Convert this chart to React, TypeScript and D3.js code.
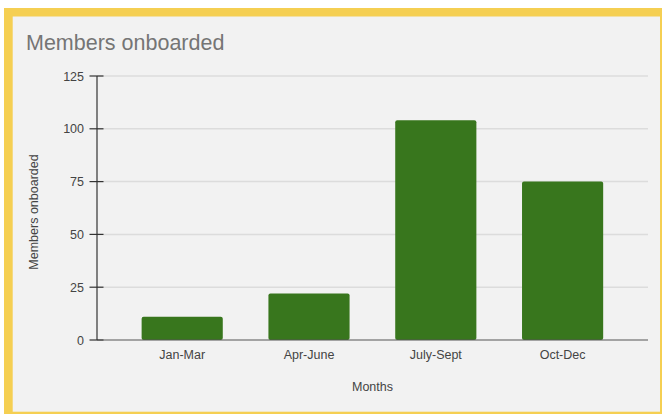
import React from "react";
import * as d3 from "d3";

const categories = ["Jan-Mar", "Apr-June", "July-Sept", "Oct-Dec"];
const values = [11, 22, 104, 75];
const yTicks = [0, 25, 50, 75, 100, 125];
const title = "Members onboarded";
const xTitle = "Months";
const yTitle = "Members onboarded";

export default function App() {
  const W = 662, H = 414;
  const plotLeft = 97, plotRight = 648, plotTop = 76, plotBottom = 340;
  const y = d3.scaleLinear().domain([0, 125]).range([plotBottom, plotTop]);
  const x = d3.scaleBand<string>().domain(categories).range([118.8, 626]).paddingInner(0.36).paddingOuter(0.18);
  const font = "'Liberation Sans', Arial, sans-serif";
  return (
    <svg width={W} height={H} style={{ position: "absolute", left: 0, top: 0, background: "#fff" }} fontFamily={font}>
      <rect x={4} y={8} width={658} height={406} fill="#f5cf52" />
      <rect x={12.7} y={16.5} width={647.3} height={395.2} fill="#f2f2f2" />
      <text x={26} y={50} fontSize={21.5} fill="#757575">{title}</text>
      {yTicks.map((t) => (
        <g key={t}>
          {t !== 0 && (
            <line x1={plotLeft} x2={plotRight} y1={y(t)} y2={y(t)} stroke="#dcdcdc" strokeWidth={1.5} />
          )}
          <line x1={89.5} x2={103.5} y1={y(t)} y2={y(t)} stroke="#333" strokeWidth={1.2} />
          <text x={84} y={y(t)} dy="0.36em" textAnchor="end" fontSize={12.5} fill="#444">{t}</text>
        </g>
      ))}
      {categories.map((c, i) => (
        <rect key={c} x={x(c)} y={y(values[i])} width={x.bandwidth()} height={y(0) - y(values[i])} rx={2} fill="#38761d" />
      ))}
      <line x1={plotLeft} x2={plotRight} y1={y(0)} y2={y(0)} stroke="#555" strokeWidth={1.2} />
      <line x1={plotLeft} x2={plotLeft} y1={plotTop} y2={plotBottom} stroke="#333" strokeWidth={1.2} />
      {categories.map((c) => (
        <text key={c} x={(x(c) as number) + x.bandwidth() / 2} y={359} textAnchor="middle" fontSize={12.5} fill="#444">{c}</text>
      ))}
      <text x={(plotLeft + plotRight) / 2} y={391} textAnchor="middle" fontSize={12.5} fill="#444">{xTitle}</text>
      <text transform={`translate(38, ${(plotTop + plotBottom) / 2 + 4}) rotate(-90)`} textAnchor="middle" fontSize={12.5} fill="#444">{yTitle}</text>
    </svg>
  );
}
